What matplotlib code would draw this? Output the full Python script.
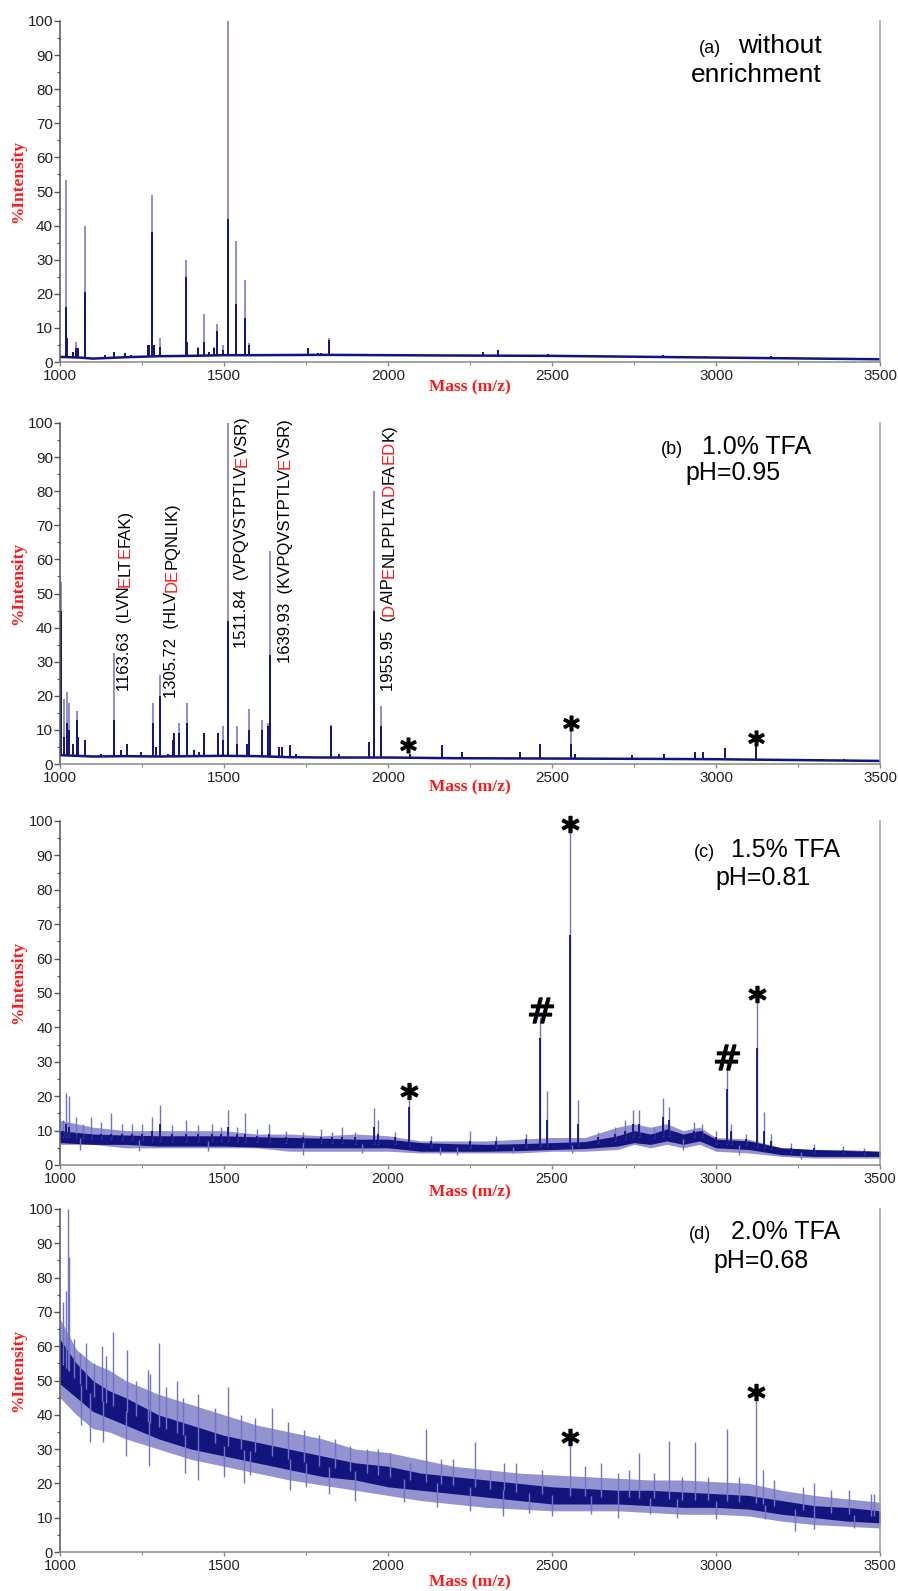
import numpy as np
import matplotlib
matplotlib.use('Agg')
import matplotlib.pyplot as plt
from matplotlib.ticker import MultipleLocator

plt.rcParams['font.family'] = ['Liberation Sans', 'DejaVu Sans']

NAVY = '#14147e'
LIGHT = '#7272c6'
RED = '#ff1a1a'

# ---------------- panel (a) : without enrichment
a_base_mz = [1000, 1060, 1100, 1200, 1300, 1400, 1500, 1600, 1800, 2000, 2200, 2500, 3000, 3500]
a_base_int = [1.5, 1.3, 1.0, 1.4, 1.7, 1.8, 2.0, 2.0, 2.1, 2.0, 1.9, 1.8, 1.3, 0.8]
a_peak_mz = [1017, 1022, 1039, 1050, 1054, 1076, 1137, 1164, 1199, 1215, 1267, 1272, 1282, 1287,
             1304, 1343, 1383, 1387, 1422, 1438, 1455, 1471, 1480, 1496, 1511, 1538, 1565, 1575,
             1630, 1756, 1787, 1797, 1821, 2290, 2336, 2488, 2838, 2966, 3168]
a_peak_top = [53.5, 7, 3, 6, 4, 40, 2, 3, 2.5, 2, 5, 5, 49, 5,
              7, 2, 30, 6, 4.5, 14, 3, 4.5, 11, 5, 100, 35.5, 24, 5.5,
              2, 4, 2.5, 2.5, 7, 3, 3.5, 2.2, 2, 1.8, 1.8]
a_peak_core = [16, 7, 3, 4, 4, 20.5, 2, 3, 2.5, 2, 5, 5, 38, 5,
               4.5, 2, 25, 6, 4, 6, 3, 4, 9, 3.5, 42, 17, 13, 5,
               2, 4, 2.5, 2.5, 6.5, 3, 3.5, 2.2, 2, 1.8, 1.8]

# ---------------- panel (b) : 1.0% TFA
b_base_mz = [1000, 1100, 1200, 1300, 1400, 1500, 1600, 1700, 1800, 1900, 2000, 2200, 2500, 2800, 3000, 3300, 3500]
b_base_int = [2.6, 2.2, 2.3, 2.2, 2.3, 2.4, 2.3, 2.0, 1.9, 1.9, 1.9, 1.7, 1.6, 1.5, 1.4, 1.1, 0.9]
b_peak_mz = [1002, 1004, 1012, 1022, 1027, 1040, 1051, 1055, 1076, 1124, 1163.63, 1185, 1204, 1246,
             1284, 1292, 1305.72, 1328, 1343, 1348, 1362, 1386, 1409, 1425, 1440, 1481, 1498,
             1511.84, 1539, 1569, 1577, 1615, 1633, 1639.93, 1669, 1677, 1700, 1720, 1825, 1852,
             1941, 1955.95, 1978, 2066, 2165, 2226, 2401, 2463, 2557, 2570, 2745, 2841, 2937,
             2960, 3027, 3121, 3325, 3389]
b_peak_top = [53.5, 13, 19, 21, 18, 6, 15.5, 8, 7, 3, 32.5, 4, 6, 3.5,
              18, 5, 26, 3, 7, 9, 12, 18, 4, 3.5, 9, 9, 11,
              100, 11, 6, 16, 13, 12, 62.5, 5, 5, 5.5, 3, 11.5, 3,
              6.5, 80, 17, 3, 5.6, 3.6, 3.6, 5.9, 10.5, 3, 2.5, 3, 3.6,
              3.4, 4.6, 6.6, 1.5, 1.5]
b_peak_core = [45, 13, 8, 12, 10, 6, 13, 8, 7, 3, 13, 4, 6, 3.5,
               12, 5, 20, 3, 7, 9, 9, 12, 4, 3.5, 9, 9, 7,
               42, 6, 6, 10, 10, 11, 32, 5, 5, 5.5, 3, 11, 3,
               6.5, 45, 11, 3, 5.6, 3.6, 3.6, 5.9, 6, 3, 2.5, 3, 3.6,
               3.4, 4.6, 6.6, 1.5, 1.5]
b_label_mz = [1175, 1318, 1532, 1664, 1980]
b_label_y = [21.4, 19.5, 34, 29.7, 21.4]
b_labels = [
    [('1163.63  (LVN', 'k'), ('E', RED), ('LT', 'k'), ('E', RED), ('FAK)', 'k')],
    [('1305.72  (HLV', 'k'), ('DE', RED), ('PQNLIK)', 'k')],
    [('1511.84  (VPQVSTPTLV', 'k'), ('E', RED), ('VSR)', 'k')],
    [('1639.93  (KVPQVSTPTLV', 'k'), ('E', RED), ('VSR)', 'k')],
    [('1955.95  (', 'k'), ('D', RED), ('AIP', 'k'), ('E', RED), ('NLPPLTA', 'k'),
     ('D', RED), ('FA', 'k'), ('ED', RED), ('K)', 'k')],
]
b_star_mz = [2062, 2557, 3121]
b_star_y = [5.6, 12, 7.6]

# ---------------- panel (c) : 1.5% TFA
c_env_mz = [1000, 1100, 1200, 1300, 1400, 1500, 1600, 1700, 1800, 1900, 2000, 2100, 2200, 2300, 2400,
            2500, 2600, 2700, 2750, 2800, 2850, 2900, 2950, 3000, 3100, 3200, 3300, 3400, 3500]
c_out_lo = [6, 6, 5, 5, 5, 5, 5, 4, 4, 4, 4, 3.5, 3.5, 3.5, 3.5,
            4, 4, 4.5, 6, 5, 6, 5, 6, 4, 3.5, 2.5, 2, 2, 2]
c_out_hi = [13, 11, 10, 10, 10, 10, 9, 9, 8.5, 9, 8.5, 7, 7, 7, 7.5,
            8, 8, 11, 12, 11, 12, 10, 11, 8, 7.5, 5, 4.5, 4.5, 4]
c_core_lo = [6.5, 6, 6, 5.5, 5.5, 5.5, 5.2, 5, 5, 5, 5, 4, 4, 4, 4.2,
             4.5, 4.8, 5.5, 6.5, 6, 7, 6, 7, 5, 4.5, 3, 2.5, 2.5, 2.5]
c_core_hi = [10, 9, 8.7, 8.5, 8.5, 8.5, 8.2, 8, 7.8, 7.5, 7.5, 6.5, 6.2, 6, 6.2,
             6.5, 6.8, 8.5, 10, 9, 10.5, 9, 10, 7.5, 7, 5, 4.5, 4.2, 4]
c_spike_mz = [1008, 1017, 1026, 1049, 1070, 1096, 1125, 1154, 1190, 1219, 1250, 1280, 1306, 1340,
              1385, 1420, 1463, 1490, 1512, 1540, 1565, 1600, 1638, 1690, 1740, 1795, 1830, 1860,
              1900, 1956, 1970, 2020, 2063, 2130, 2250, 2330, 2420, 2463, 2486, 2556, 2579, 2640,
              2692, 2722, 2748, 2766, 2810, 2839, 2858, 2932, 2958, 3000, 3033, 3045, 3090, 3124,
              3145, 3168, 3230, 3300, 3386, 3450]
c_spike_top = [13, 21, 20, 14, 12, 14, 12.5, 15, 12, 12, 12, 14, 17.5, 11.5,
               13, 11.5, 12, 11, 16, 11, 15, 10.5, 12, 10, 9.5, 10.5, 9.5, 11,
               9.5, 16.5, 13, 9.5, 19, 8.5, 10, 8.5, 9, 43, 21.5, 99, 19, 9.5,
               11, 13, 16, 16, 11, 19.5, 17, 12.5, 12, 10, 30, 12, 9, 48,
               15.5, 9, 6.5, 6, 5.5, 5]
c_spike_core = [10, 12, 11, 9, 9, 9, 9, 9, 9, 9, 9, 10, 12, 9,
                9, 9, 9, 9, 11, 9, 9, 8.5, 9, 8, 8, 8, 8, 8,
                8, 11, 9, 8, 17, 7, 7, 7, 7.5, 37, 13, 67, 12, 8,
                9, 10, 12, 12, 9, 14, 13, 10, 10, 8, 22, 10, 7.5, 34,
                10, 7, 5, 5, 4.5, 4]
c_dip_mz = [1060, 1240, 1450, 1740, 1920, 2160, 2210, 2380, 2560, 2900, 3070, 3260]
c_dip_int = [4.5, 4, 4, 3, 3.5, 3, 3, 3.5, 3.5, 4.5, 3, 1.8]
c_star_mz = [2063, 2556, 3124]
c_star_y = [21.6, 99, 49.6]
c_hash_mz = [2465, 3033]
c_hash_y = [45, 31.4]

# ---------------- panel (d) : 2.0% TFA
d_env_mz = [1000, 1050, 1100, 1150, 1200, 1300, 1400, 1500, 1600, 1700, 1800, 1900, 2000, 2100,
            2200, 2300, 2400, 2500, 2600, 2700, 2800, 2900, 3000, 3100, 3200, 3300, 3400, 3500]
d_out_lo = [45, 40, 36, 35, 33, 30, 27, 25, 23, 21, 19.5, 18, 16.5, 15,
            14, 13, 12.5, 12, 12, 12, 11.5, 11, 11, 10.5, 9, 8, 7.5, 7]
d_out_hi = [68, 59, 55, 53, 50, 46, 43, 40, 37, 35, 33, 30, 29, 27,
            25, 24, 23, 22.5, 22, 21.5, 21, 21, 20.5, 20, 18, 16.5, 15.5, 14.5]
d_core_lo = [49, 45, 41, 39, 37, 33, 30, 28, 26, 24, 22, 21, 19, 18,
             17, 16, 15, 14, 14, 14, 13.5, 13, 13, 12.5, 11, 10, 9, 8.5]
d_core_hi = [62, 55, 50, 47, 45, 40, 37, 34, 32, 30, 28, 26, 25, 23,
             22, 21, 20, 19, 18.5, 18, 18, 17.5, 17, 16.5, 15, 13.5, 13, 12]
d_spike_mz = [1009, 1017, 1023, 1026, 1044, 1061, 1079, 1105, 1128, 1140, 1163, 1205, 1232, 1267,
              1274, 1302, 1323, 1358, 1376, 1420, 1472, 1512, 1551, 1594, 1645, 1696, 1743, 1790,
              1839, 1883, 1935, 1970, 2005, 2066, 2115, 2163, 2198, 2264, 2311, 2355, 2390, 2469,
              2556, 2600, 2649, 2701, 2736, 2766, 2810, 2858, 2897, 2935, 2976, 3033, 3071, 3121,
              3142, 3177, 3264, 3299, 3351, 3404, 3474, 3483]
d_spike_top = [73, 76, 100, 86, 62, 58, 61, 55, 60, 57, 64, 59, 50, 53,
               52, 61, 48, 50, 45, 46, 42, 48, 40, 39, 42, 38, 35.5, 34,
               33, 31, 30, 30, 29, 26, 36, 27, 27, 32, 24, 26, 26, 24,
               32, 25, 26, 23, 24, 29, 23, 32.5, 22, 32, 22, 36, 22, 44.5,
               24, 21, 19, 20, 18, 18, 17, 17]
d_dip_mz = [1065, 1090, 1131, 1200, 1270, 1380, 1420, 1500, 1560, 1580, 1700, 1750, 1820, 1900,
            2050, 2150, 2250, 2350, 2430, 2500, 2620, 2700, 2800, 2880, 3000, 3150, 3240, 3300, 3420]
d_dip_int = [37, 32, 32, 28, 25, 23, 21, 22, 20, 22.5, 18, 19, 17, 15,
             14.5, 13, 12, 10.5, 11.5, 10.5, 11, 10, 11, 10, 9.5, 9.5, 6, 6.6, 7]
d_star_mz = [2556, 3121]
d_star_y = [33.5, 46.6]

W, H = 898, 1591
fig = plt.figure(figsize=(W / 100, H / 100), dpi=100)


def px_axes(top, bottom, left=60, right=880):
    return fig.add_axes([left / W, 1 - bottom / H, (right - left) / W, (bottom - top) / H])


def style(ax, tsize, xl_y):
    ax.set_xlim(1000, 3500)
    ax.set_ylim(0, 100)
    ax.xaxis.set_major_locator(MultipleLocator(500))
    ax.xaxis.set_minor_locator(MultipleLocator(250))
    ax.yaxis.set_major_locator(MultipleLocator(10))
    ax.yaxis.set_minor_locator(MultipleLocator(5))
    ax.spines['top'].set_visible(False)
    ax.spines['left'].set_color('#555555')
    ax.spines['bottom'].set_color('#888888')
    ax.spines['right'].set_color('#9a9a9a')
    for s in ['left', 'bottom', 'right']:
        ax.spines[s].set_linewidth(1.1)
    ax.tick_params(axis='y', which='major', length=4, width=1, color='#555555', pad=1,
                   labelsize=tsize, labelcolor='#222222')
    ax.tick_params(axis='y', which='minor', length=2, width=0.8, color='#555555')
    ax.tick_params(axis='x', which='major', length=3, width=1, color='#888888', pad=2,
                   labelsize=tsize, labelcolor='#222222')
    ax.tick_params(axis='x', which='minor', length=2, width=0.8, color='#888888')
    ax.set_ylabel('%Intensity', family='Liberation Serif', weight='bold', color=RED, fontsize=12.5)
    ax.yaxis.set_label_coords(-0.051, 0.53)
    ax.yaxis.label.set_va('center')
    ax.set_xlabel('Mass (m/z)', family='Liberation Serif', weight='bold', color=RED, fontsize=12.5)
    ax.xaxis.set_label_coords(0.5, xl_y)
    ax.xaxis.label.set_va('center')


def stick_spectrum(ax, base_mz, base_int, pk_mz, pk_top, pk_core):
    base_at = np.interp(pk_mz, base_mz, base_int)
    ax.vlines(pk_mz, base_at, pk_top, color=LIGHT, lw=1.1)
    ax.vlines(pk_mz, base_at, pk_core, color=NAVY, lw=1.4)
    ax.plot(base_mz, base_int, color=NAVY, lw=1.8)


def band_spectrum(ax, env_mz, out_lo, out_hi, core_lo, core_hi, sp_mz, sp_top, sp_core, dip_mz, dip_int):
    ax.fill_between(env_mz, out_lo, out_hi, color='#4c4cb0', lw=0, alpha=0.6)
    ax.fill_between(env_mz, core_lo, core_hi, color=NAVY, lw=0)
    mid = (np.array(core_lo) + np.array(core_hi)) / 2
    sp_base = np.interp(sp_mz, env_mz, mid)
    ax.vlines(sp_mz, sp_base, sp_top, color=LIGHT, lw=1.0)
    if sp_core is not None:
        ax.vlines(sp_mz, sp_base, sp_core, color=NAVY, lw=1.3)
    dip_base = np.interp(dip_mz, env_mz, mid)
    ax.vlines(dip_mz, dip_int, dip_base, color=LIGHT, lw=1.0)


def fx(x):
    return x / W


def fy(y):
    return 1 - y / H


def header(lab, lab_r, main, main_l, base1, ph, ph_l, base2):
    fig.text(fx(lab_r), fy(base1), lab, fontsize=13, ha='right', va='baseline')
    fig.text(fx(main_l), fy(base1), main, fontsize=18, ha='left', va='baseline')
    fig.text(fx(ph_l), fy(base2), ph, fontsize=18, ha='left', va='baseline')


def marks(ax, xs, ys, sym, size):
    ax.plot(xs, ys, ls='none', marker=sym, ms=size, color='k', mec='k', clip_on=False)


# (a)
ax = px_axes(21, 362)
style(ax, 11, -0.073)
stick_spectrum(ax, a_base_mz, a_base_int, a_peak_mz, a_peak_top, a_peak_core)
fig.text(fx(721), fy(53), '(a)', fontsize=13, ha='right', va='baseline')
fig.text(fx(822), fy(53), 'without', fontsize=19, ha='right', va='baseline')
fig.text(fx(822), fy(82), 'enrichment', fontsize=19, ha='right', va='baseline')

# (b)
ax = px_axes(423, 764)
style(ax, 11, -0.07)
stick_spectrum(ax, b_base_mz, b_base_int, b_peak_mz, b_peak_top, b_peak_core)
for x0, y0, parts in zip(b_label_mz, b_label_y, b_labels):
    t = ax.text(x0, y0, parts[0][0], color=parts[0][1], rotation=90, ha='left', va='bottom', fontsize=12)
    for s, c in parts[1:]:
        t = ax.annotate(s, xy=(0, 1), xycoords=t, xytext=(0, -0.2), textcoords='offset points',
                        rotation=90, ha='left', va='bottom', color=c, fontsize=12)
marks(ax, b_star_mz, b_star_y, r'$\mathbf{*}$', 11)
header('(b)', 683, '1.0% TFA', 702, 454, 'pH=0.95', 685, 480)

# (c)
ax = px_axes(821, 1165)
style(ax, 10.5, -0.081)
band_spectrum(ax, c_env_mz, c_out_lo, c_out_hi, c_core_lo, c_core_hi,
              c_spike_mz, c_spike_top, c_spike_core, c_dip_mz, c_dip_int)
marks(ax, c_star_mz, c_star_y, r'$\mathbf{*}$', 12)
marks(ax, c_hash_mz, c_hash_y, r'$\#$', 18)
header('(c)', 715, '1.5% TFA', 731, 857, 'pH=0.81', 715, 885)

# (d)
ax = px_axes(1209, 1552)
style(ax, 10.5, -0.09)
band_spectrum(ax, d_env_mz, d_out_lo, d_out_hi, d_core_lo, d_core_hi,
              d_spike_mz, d_spike_top, None, d_dip_mz, d_dip_int)
marks(ax, d_star_mz, d_star_y, r'$\mathbf{*}$', 12)
header('(d)', 711, '2.0% TFA', 731, 1239, 'pH=0.68', 713, 1268)

fig.savefig('out.png', dpi=100)
